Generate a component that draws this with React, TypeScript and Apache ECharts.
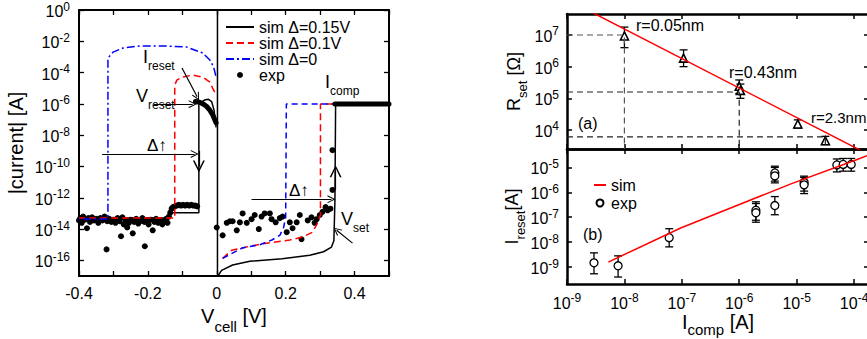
import React, { useEffect, useRef } from 'react';
import * as echarts from 'echarts';

const FONT = '"Liberation Sans", Arial, Helvetica, sans-serif';

// ---------------- Left panel: |current| [A] vs V_cell [V]  (y stored as log10 of current) ----------------
const leftXLabels = [-0.4, -0.2, 0, 0.2, 0.4];
const leftYExponents = [-16, -14, -12, -10, -8, -6, -4, -2, 0];

const sim015Neg = [[-0.002, -7.5], [-0.008, -6.4], [-0.015, -5.85], [-0.025, -5.7], [-0.035, -5.75], [-0.045, -5.9], [-0.052, -6.05], [-0.052, -12.95], [-0.135, -12.95], [-0.14, -13.3], [-0.4, -13.3]];
const sim015Zero = [[0.002, 0], [0.002, -16.9]];
const sim015Pos = [[0.003, -17], [0.014, -16.64], [0.046, -16.3], [0.096, -16.06], [0.19, -15.9], [0.27, -15.68], [0.31, -15.45], [0.333, -15.15], [0.34, -14.75], [0.343, -12.2], [0.345, -6.0], [0.5, -6.0]];

const sim01Neg = [[-0.006, -5.25], [-0.012, -4.99], [-0.02, -4.61], [-0.041, -4.29], [-0.07, -4.16], [-0.101, -4.29], [-0.116, -4.48], [-0.122, -4.8], [-0.122, -13.3], [-0.4, -13.3]];
const sim01Pos = [[0.017, -15.87], [0.043, -15.36], [0.096, -15.1], [0.145, -14.9], [0.212, -14.7], [0.25, -14.5], [0.278, -14.2], [0.293, -13.6], [0.301, -13.1], [0.301, -6.0], [0.345, -6.0]];

const sim0Neg = [[-0.003, -4.2], [-0.009, -3.65], [-0.02, -3.2], [-0.041, -2.75], [-0.087, -2.37], [-0.145, -2.3], [-0.223, -2.3], [-0.272, -2.43], [-0.301, -2.69], [-0.316, -3.07], [-0.316, -13.35], [-0.4, -13.35]];
const sim0Pos = [[0.017, -15.87], [0.075, -15.2], [0.125, -15.0], [0.16, -14.7], [0.183, -14.4], [0.194, -13.9], [0.2, -13.25], [0.202, -6.0], [0.345, -6.0]];

const expNeg = [[-0.4, -13.45], [-0.396, -13.3], [-0.392, -13.6], [-0.388, -13.2], [-0.383, -13.4], [-0.377, -13.95], [-0.373, -13.3], [-0.368, -13.55], [-0.362, -13.25], [-0.356, -13.45], [-0.35, -13.35], [-0.344, -13.6], [-0.338, -13.3], [-0.332, -13.45], [-0.326, -13.2], [-0.32, -15.3], [-0.318, -13.5], [-0.312, -13.35], [-0.306, -13.55], [-0.3, -13.4], [-0.294, -13.6], [-0.288, -13.3], [-0.282, -13.5], [-0.278, -14.46], [-0.274, -13.25], [-0.27, -13.7], [-0.264, -13.45], [-0.26, -13.9], [-0.255, -13.6], [-0.25, -13.4], [-0.244, -14.27], [-0.24, -13.55], [-0.234, -13.35], [-0.228, -13.65], [-0.222, -13.5], [-0.216, -13.3], [-0.21, -13.55], [-0.209, -15.1], [-0.204, -13.45], [-0.198, -13.7], [-0.192, -13.4], [-0.186, -14.08], [-0.181, -13.55], [-0.176, -13.35], [-0.17, -13.6], [-0.164, -13.45], [-0.158, -13.7], [-0.152, -13.5], [-0.147, -13.35], [-0.143, -13.6], [-0.139, -13.2], [-0.135, -12.95], [-0.131, -12.7], [-0.127, -12.6], [-0.122, -12.55], [-0.116, -12.5], [-0.11, -12.45], [-0.104, -12.5], [-0.098, -12.45], [-0.092, -12.5], [-0.086, -12.45], [-0.08, -12.5], [-0.074, -12.45], [-0.068, -12.5], [-0.062, -12.5], [-0.057, -12.55]];
const expPos = [[0.0, -13.9], [0.017, -14.4], [0.029, -13.6], [0.038, -13.5], [0.046, -13.5], [0.058, -14.08], [0.067, -13.57], [0.075, -13.0], [0.087, -13.6], [0.101, -13.37], [0.11, -13.1], [0.122, -14.0], [0.13, -13.2], [0.139, -13.0], [0.154, -13.0], [0.159, -13.37], [0.171, -13.57], [0.183, -13.3], [0.191, -13.2], [0.203, -14.2], [0.212, -13.57], [0.22, -13.95], [0.232, -13.57], [0.241, -13.1], [0.246, -14.65], [0.264, -13.45], [0.275, -13.25], [0.284, -13.6], [0.29, -13.37], [0.299, -13.1], [0.307, -12.9], [0.316, -12.6], [0.322, -12.8], [0.33, -12.7], [0.336, -11.5], [0.336, -8.96]];
const expResetBlob = [[-0.062, -5.85], [-0.05, -5.9], [-0.04, -6.0], [-0.03, -6.15], [-0.02, -6.4], [-0.012, -6.7], [-0.006, -7.0], [-0.002, -7.2]];
const expCompliance = [[0.343, -6.0], [0.5, -6.0]];

// annotation arrows, data coords [x1, y1, x2, y2]
const arrowsLeft = [
  [-0.101, -3.71, -0.057, -5.55],
  [-0.183, -6.02, -0.07, -6.02],
  [-0.333, -9.2, -0.064, -9.2],
  [0.101, -12.1, 0.333, -12.1],
  [0.394, -14.9, 0.348, -14.08],
];
const chevronsLeft = [
  [-0.052, -9.0, -0.052, -10.0],
  [0.345, -11.5, 0.345, -10.3],
];

// ---------------- Right panel (a): R_set [Ohm] vs I_comp [A]  (log10) ----------------
const compExponents = [-9, -8, -7, -6, -5, -4];
const aRExponents = [4, 5, 6, 7];
const aIcomp = [-8.0, -6.97, -6.0, -5.98, -4.98, -4.5];
const aRset = [6.97, 6.27, 5.38, 5.25, 4.19, 3.66];
const aRlo = [6.6, 6.0, 5.15, 5.0, 4.06, 3.54];
const aRhi = [7.25, 6.53, 5.58, 5.45, 4.32, 3.8];
const aSimI = [-9.0, -3.74];
const aSimR = [8.12, 3.22];
const guideI = [-8.0, -6.0, -4.5];
const guideR = [7.0, 5.2, 3.78];

// ---------------- Right panel (b): I_reset [A] vs I_comp [A] (log10) ----------------
const bIExponents = [-9, -8, -7, -6, -5];
const bIcomp = [-8.53, -8.11, -7.22, -5.71, -5.71, -5.38, -5.38, -5.38, -4.87, -4.87, -4.3, -4.19, -4.05];
const bIreset = [-8.83, -8.95, -7.82, -6.72, -6.82, -5.22, -5.34, -6.53, -5.6, -5.7, -4.9, -4.88, -4.88];
const bLo = [-9.27, -9.4, -8.19, -7.12, -7.2, -5.55, -5.62, -6.9, -5.95, -6.05, -5.18, -5.15, -5.15];
const bHi = [-8.43, -8.55, -7.46, -6.38, -6.45, -4.95, -5.0, -6.17, -5.35, -5.4, -4.66, -4.64, -4.64];
const bSimI = [-8.28, -7.02, -5.1, -3.97, -3.74];
const bSimR = [-8.8, -7.43, -5.66, -4.7, -4.5];

// axis ranges
const L_X = [-0.4, 0.5];
const L_Y = [-17, 0];
const R_X = [-9, -3.74];
const A_Y = [3.4, 7.663];
const B_Y = [-9.68, -4.26];

const supRich = {
  b: { fontSize: 16, lineHeight: 19, verticalAlign: 'bottom', fontFamily: FONT, color: '#000' },
  s: { fontSize: 12, lineHeight: 12, verticalAlign: 'top', fontFamily: FONT, color: '#000' },
};
const pow10 = (v: number) => `{b|10}{s|${Math.round(v)}}`;

const nameRich = (fs: number, sfs: number, slh: number) => ({
  b: { fontSize: fs, lineHeight: fs, verticalAlign: 'top', fontFamily: FONT, color: '#000' },
  s: { fontSize: sfs, lineHeight: slh, verticalAlign: 'bottom', fontFamily: FONT, color: '#000' },
});

const tickStyle = (w: number) => ({ show: true, inside: true, length: 5, lineStyle: { color: '#000', width: w } });

function xAxisDef(grid: number, range: number[], pos: 'top' | 'bottom', lw: number, opts: any = {}) {
  return {
    type: 'value', gridIndex: grid, position: pos, min: range[0], max: range[1],
    axisLine: { show: true, onZero: false, lineStyle: { color: '#000', width: lw } },
    splitLine: { show: false },
    ...opts,
  };
}
function yAxisDef(grid: number, range: number[], pos: 'left' | 'right', lw: number, opts: any = {}) {
  return {
    type: 'value', gridIndex: grid, position: pos, min: range[0], max: range[1],
    axisLine: { show: true, onZero: false, lineStyle: { color: '#000', width: lw } },
    splitLine: { show: false },
    ...opts,
  };
}

const chevron = 'path://M5,0 L10,10 L8.6,10 L5,2.6 L1.4,10 L0,10 Z';
const hideDot = { color: 'rgba(0,0,0,0)', borderWidth: 0, opacity: 0 };

function buildOption(): any {
  const lineS = (name: string, data: number[][], color: string, type: any, width = 1.5, extra: any = {}) => ({
    type: 'line', name, data, xAxisIndex: 0, yAxisIndex: 0, symbol: 'none', silent: true,
    lineStyle: { color, width, type }, itemStyle: { color }, ...extra,
  });
  const errRender = (params: any, api: any) => {
    const x = api.value(0), lo = api.value(1), hi = api.value(2);
    const a = api.coord([x, lo]);
    const b = api.coord([x, hi]);
    const w = 4;
    const st = { stroke: '#000', lineWidth: 1.3 };
    return {
      type: 'group', children: [
        { type: 'line', shape: { x1: a[0], y1: a[1], x2: b[0], y2: b[1] }, style: st },
        { type: 'line', shape: { x1: a[0] - w, y1: a[1], x2: a[0] + w, y2: a[1] }, style: st },
        { type: 'line', shape: { x1: b[0] - w, y1: b[1], x2: b[0] + w, y2: b[1] }, style: st },
      ],
    };
  };

  const annRich = {
    b: { fontSize: 18, lineHeight: 18, verticalAlign: 'top', fontFamily: FONT, fill: '#000' },
    s: { fontSize: 12, lineHeight: 24, verticalAlign: 'bottom', fontFamily: FONT, fill: '#000' },
  };
  const txt = (x: number, y: number, text: string, fs = 16) => ({
    type: 'text', x, y, silent: true,
    style: { text, fontSize: fs, fontFamily: FONT, fill: '#000', rich: annRich, verticalAlign: 'top', align: 'left' },
  });

  return {
    animation: false,
    backgroundColor: '#fff',
    grid: [
      { left: 79, top: 10, width: 310, height: 266, outerBoundsMode: 'none', containLabel: false },
      { left: 567, top: 14, width: 302, height: 135, outerBoundsMode: 'none', containLabel: false },
      { left: 567, top: 149, width: 302, height: 135, outerBoundsMode: 'none', containLabel: false },
    ],
    xAxis: [
      xAxisDef(0, L_X, 'bottom', 2, {
        interval: 0.1,
        axisTick: tickStyle(1.3),
        axisLabel: {
          customValues: leftXLabels, margin: 9, color: '#000', fontSize: 16, fontFamily: FONT,
          formatter: (v: number) => (Math.abs(v) < 1e-9 ? '0' : v.toFixed(1)),
        },
        name: '{b|V}{s|cell}{b| [V]}', nameLocation: 'middle', nameGap: 19,
        nameTextStyle: { rich: nameRich(20, 15, 28) },
      }),
      xAxisDef(0, L_X, 'top', 2, { interval: 0.1, axisTick: tickStyle(1.3), axisLabel: { show: false } }),
      xAxisDef(1, R_X, 'bottom', 2.5, { axisTick: { ...tickStyle(1.5), customValues: compExponents }, axisLabel: { show: false } }),
      xAxisDef(1, R_X, 'top', 2.5, { axisTick: { ...tickStyle(1.5), customValues: compExponents }, axisLabel: { show: false } }),
      xAxisDef(2, R_X, 'bottom', 2.5, {
        axisTick: { ...tickStyle(1.5), customValues: compExponents },
        axisLabel: { customValues: compExponents, formatter: pow10, rich: supRich, margin: 8 },
        name: '{b|I}{s|comp}{b| [A]}', nameLocation: 'middle', nameGap: 23,
        nameTextStyle: { rich: nameRich(20, 15, 25) },
      }),
      xAxisDef(2, R_X, 'top', 2.5, { axisTick: { ...tickStyle(1.5), customValues: compExponents }, axisLabel: { show: false } }),
    ],
    yAxis: [
      yAxisDef(0, L_Y, 'left', 2, {
        axisTick: { ...tickStyle(1.3), customValues: leftYExponents },
        axisLabel: { customValues: leftYExponents, formatter: pow10, rich: supRich, margin: 9 },
        name: '|current| [A]', nameLocation: 'middle', nameGap: 53,
        nameTextStyle: { fontSize: 20, fontFamily: FONT, color: '#000' },
      }),
      yAxisDef(0, L_Y, 'right', 2, { axisTick: { ...tickStyle(1.3), customValues: leftYExponents }, axisLabel: { show: false } }),
      yAxisDef(1, A_Y, 'left', 2.5, {
        axisTick: { ...tickStyle(1.5), customValues: aRExponents },
        axisLabel: { customValues: aRExponents, formatter: pow10, rich: supRich, margin: 8 },
        name: '{b|R}{s|set}{b| [Ω]}', nameLocation: 'middle', nameGap: 38,
        nameTextStyle: { rich: nameRich(18, 13, 24) },
      }),
      yAxisDef(1, A_Y, 'right', 2.5, { axisTick: { ...tickStyle(1.5), customValues: aRExponents }, axisLabel: { show: false } }),
      yAxisDef(2, B_Y, 'left', 2.5, {
        axisTick: { ...tickStyle(1.5), customValues: bIExponents },
        axisLabel: { customValues: bIExponents, formatter: pow10, rich: supRich, margin: 8 },
        name: '{b|I}{s|reset}{b|[A]}', nameLocation: 'middle', nameGap: 38,
        nameTextStyle: { rich: nameRich(18, 13, 24) },
      }),
      yAxisDef(2, B_Y, 'right', 2.5, { axisTick: { ...tickStyle(1.5), customValues: bIExponents }, axisLabel: { show: false } }),
    ],
    legend: [
      {
        data: [
          { name: 'sim Δ=0.15V', itemStyle: hideDot },
          { name: 'sim Δ=0.1V', itemStyle: hideDot },
          { name: 'sim Δ=0', itemStyle: hideDot },
          { name: 'exp' },
        ],
        orient: 'vertical', left: 225, top: 19, padding: 0, itemGap: 0, itemWidth: 28, itemHeight: 6,
        textStyle: { fontSize: 16, fontFamily: FONT, color: '#000' }, selectedMode: false,
      },
      {
        data: [{ name: 'sim (b)', itemStyle: hideDot }, { name: 'exp (b)' }],
        orient: 'vertical', left: 593, top: 177, padding: 0, itemGap: 2, itemWidth: 12, itemHeight: 7,
        formatter: (n: string) => n.replace(' (b)', ''),
        textStyle: { fontSize: 16, fontFamily: FONT, color: '#000' }, selectedMode: false,
      },
    ],
    series: [
      lineS('sim Δ=0.15V', sim015Neg, '#000', 'solid'),
      lineS('sim Δ=0.15V', sim015Zero, '#000', 'solid'),
      lineS('sim Δ=0.15V', sim015Pos, '#000', 'solid'),
      lineS('sim Δ=0.1V', sim01Neg, '#ff0000', [7, 4]),
      lineS('sim Δ=0.1V', sim01Pos, '#ff0000', [7, 4]),
      lineS('sim Δ=0', sim0Neg, '#0000ff', [8, 3, 2, 3]),
      lineS('sim Δ=0', sim0Pos, '#0000ff', [6, 4]),
      lineS('expThick', expResetBlob, '#000', 'solid', 5, { lineStyle: { color: '#000', width: 5, cap: 'round', join: 'round' } }),
      lineS('expThick', expCompliance, '#000', 'solid', 5, { lineStyle: { color: '#000', width: 5, cap: 'round' } }),
      {
        type: 'scatter', name: 'exp', xAxisIndex: 0, yAxisIndex: 0, symbol: 'circle', symbolSize: 6,
        data: [...expNeg, ...expPos], itemStyle: { color: '#000', opacity: 1 }, silent: true,
      },
      {
        type: 'line', name: 'annot', xAxisIndex: 0, yAxisIndex: 0, data: [], silent: true,
        markLine: {
          silent: true, symbol: ['none', chevron], symbolSize: 8, label: { show: false },
          lineStyle: { color: '#000', width: 1.2, type: 'solid' }, emphasis: { disabled: true },
          data: arrowsLeft.map((a) => [{ coord: [a[0], a[1]] }, { coord: [a[2], a[3]] }]),
        },
      },
      {
        type: 'line', name: 'annot2', xAxisIndex: 0, yAxisIndex: 0, data: [], silent: true,
        markLine: {
          silent: true, symbol: ['none', chevron], symbolSize: 12, label: { show: false },
          lineStyle: { color: '#000', width: 1.2, type: 'solid' }, emphasis: { disabled: true },
          data: chevronsLeft.map((a) => [{ coord: [a[0], a[1]] }, { coord: [a[2], a[3]] }]),
        },
      },
      // ---- (a)
      ...guideI.map((gi, i) => ({
        type: 'line', name: 'guide' + i, xAxisIndex: 2, yAxisIndex: 2, symbol: 'none', silent: true,
        data: [[R_X[0], guideR[i]], [gi, guideR[i]], [gi, A_Y[0]]],
        lineStyle: { color: i === 0 ? '#555' : '#222', width: 1.2, type: [6, 4] },
      })),
      {
        type: 'line', name: 'simA', xAxisIndex: 2, yAxisIndex: 2, symbol: 'none', silent: true,
        data: aSimI.map((x, i) => [x, aSimR[i]]), lineStyle: { color: '#ff0000', width: 1.5 },
      },
      {
        type: 'custom', name: 'errA', xAxisIndex: 2, yAxisIndex: 2, renderItem: errRender, silent: true,
        data: aIcomp.map((x, i) => [x, aRlo[i], aRhi[i]]), encode: { x: 0, y: [1, 2] },
      },
      {
        type: 'scatter', name: 'triA', xAxisIndex: 2, yAxisIndex: 2, symbol: 'triangle', symbolSize: 8, silent: true,
        data: aIcomp.map((x, i) => [x, aRset[i]]),
        itemStyle: { color: '#fff', borderColor: '#000', borderWidth: 1.6, opacity: 1 },
      },
      // ---- (b)
      {
        type: 'line', name: 'sim (b)', xAxisIndex: 4, yAxisIndex: 4, symbol: 'none', silent: true,
        data: bSimI.map((x, i) => [x, bSimR[i]]), lineStyle: { color: '#ff0000', width: 1.5 }, itemStyle: { color: '#ff0000' },
      },
      {
        type: 'custom', name: 'errB', xAxisIndex: 4, yAxisIndex: 4, renderItem: errRender, silent: true,
        data: bIcomp.map((x, i) => [x, bLo[i], bHi[i]]), encode: { x: 0, y: [1, 2] },
      },
      {
        type: 'scatter', name: 'exp (b)', xAxisIndex: 4, yAxisIndex: 4, symbol: 'circle', symbolSize: 8, silent: true,
        data: bIcomp.map((x, i) => [x, bIreset[i]]),
        itemStyle: { color: '#fff', borderColor: '#000', borderWidth: 1.3, opacity: 1 },
      },
    ],
    graphic: [
      txt(143, 48, '{b|I}{s|reset}'),
      txt(136, 87, '{b|V}{s|reset}'),
      txt(147, 137, 'Δ↑', 17),
      txt(325, 73, '{b|I}{s|comp}'),
      txt(289, 182, 'Δ↑', 17),
      txt(341, 210, '{b|V}{s|set}'),
      txt(636, 17, 'r=0.05nm'),
      txt(729, 64, 'r=0.43nm'),
      txt(811, 110, 'r=2.3nm', 15),
      txt(578, 115, '(a)'),
      txt(583, 226, '(b)'),
    ],
  };
}

export default function App() {
  const ref = useRef<HTMLDivElement>(null);
  useEffect(() => {
    if (!ref.current) return;
    const chart = echarts.init(ref.current, null, { renderer: 'svg' });
    chart.setOption(buildOption());
    return () => chart.dispose();
  }, []);
  return (
    <div
      ref={ref}
      style={{ position: 'fixed', left: 0, top: 0, width: 867, height: 339, background: '#fff' }}
    />
  );
}
